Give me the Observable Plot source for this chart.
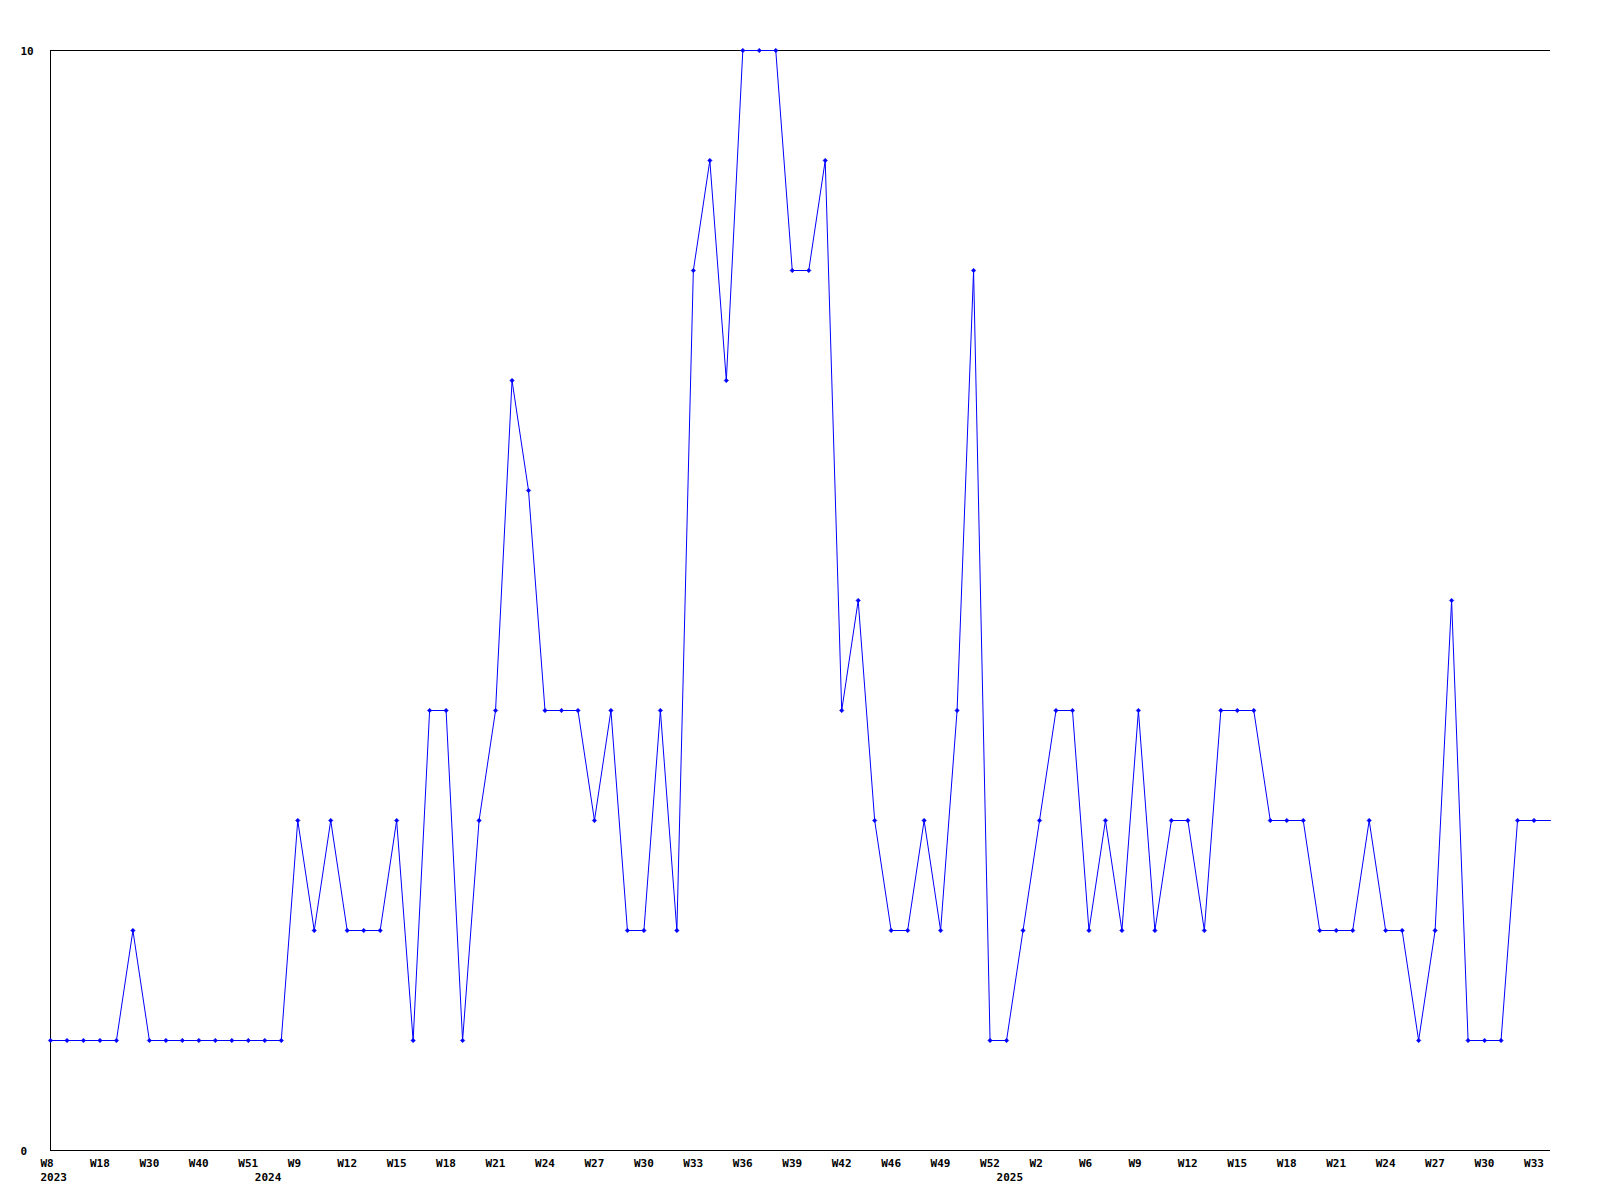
<!DOCTYPE html>
<html>
<head>
<meta charset="utf-8">
<script src="https://cdn.jsdelivr.net/npm/d3@7"></script>
<script src="https://cdn.jsdelivr.net/npm/@observablehq/plot@0.6"></script>
<style>
  html, body { margin: 0; padding: 0; background: #fff; }
</style>
</head>
<body>
<div id="chart"></div>
<script>
// Values per period (index = position along the x axis)
const values = [
  1, 1, 1, 1, 1, 2, 1, 1, 1, 1,
  1, 1, 1, 1, 1, 3, 2, 3, 2, 2,
  2, 3, 1, 4, 4, 1, 3, 4, 7, 6,
  4, 4, 4, 3, 4, 2, 2, 4, 2, 8,
  9, 7, 10, 10, 10, 8, 8, 9, 4, 5,
  3, 2, 2, 3, 2, 4, 8, 1, 1, 2,
  3, 4, 4, 2, 3, 2, 4, 2, 3, 3,
  2, 4, 4, 4, 3, 3, 3, 2, 2, 2,
  3, 2, 2, 1, 2, 5, 1, 1, 1, 3,
  3, 3
];

// Tick labels shown every third position
const weekTickIndex = [0, 3, 6, 9, 12, 15, 18, 21, 24, 27, 30, 33, 36, 39, 42, 45, 48, 51, 54, 57, 60, 63, 66, 69, 72, 75, 78, 81, 84, 87, 90];
const weekTickLabel = ["W8", "W18", "W30", "W40", "W51", "W9", "W12", "W15", "W18", "W21", "W24", "W27", "W30", "W33", "W36", "W39", "W42", "W46", "W49", "W52", "W2", "W6", "W9", "W12", "W15", "W18", "W21", "W24", "W27", "W30", "W33"];

// Year labels at the first period of each year
const yearIndex = [0, 13, 58];
const yearLabel = ["2023", "2024", "2025"];

// Y axis labels
const yTickValues = [0, 10];
const yTickLabels = ["0", "10"];

const data = values.map((v, i) => ({i, v}));
const weekTicks = weekTickIndex.map((i, k) => ({i, label: weekTickLabel[k]}));
const yearTicks = yearIndex.map((i, k) => ({i, label: yearLabel[k]}));
const yTicks = yTickValues.map((v, k) => ({v, label: yTickLabels[k]}));
const lastIndex = values.length - 1;

const chart = Plot.plot({
  width: 1600,
  height: 1200,
  marginLeft: 50,
  marginRight: 50,
  marginTop: 50,
  marginBottom: 50,
  style: {
    fontFamily: "'DejaVu Sans Mono', monospace",
    fontSize: "11px",
    fontWeight: "bold",
    background: "#fff",
    color: "#000"
  },
  x: {domain: [0, lastIndex], axis: null},
  y: {domain: [0, 10], axis: null},
  marks: [
    Plot.ruleY([0, 10], {stroke: "#000", strokeWidth: 1, shapeRendering: "crispEdges"}),
    Plot.ruleX([0], {stroke: "#000", strokeWidth: 1, shapeRendering: "crispEdges"}),
    Plot.line(data, {x: "i", y: "v", stroke: "#0000ff", strokeWidth: 1}),
    Plot.dot(data.filter(d => d.i < lastIndex), {x: "i", y: "v", symbol: "diamond2", r: 2, fill: "#0000ff", stroke: "#0000ff", strokeWidth: 0.5}),
    Plot.text(weekTicks, {x: "i", y: () => 0, text: "label", textAnchor: "start", lineAnchor: "top", dx: -10, dy: 9, fill: "#000"}),
    Plot.text(yearTicks, {x: "i", y: () => 0, text: "label", textAnchor: "start", lineAnchor: "top", dx: -10, dy: 23, fill: "#000"}),
    Plot.text(yTicks, {y: "v", text: "label", frameAnchor: "left", textAnchor: "start", dx: -30, dy: 1, fill: "#000"})
  ]
});

document.getElementById("chart").appendChild(chart);
</script>
</body>
</html>
